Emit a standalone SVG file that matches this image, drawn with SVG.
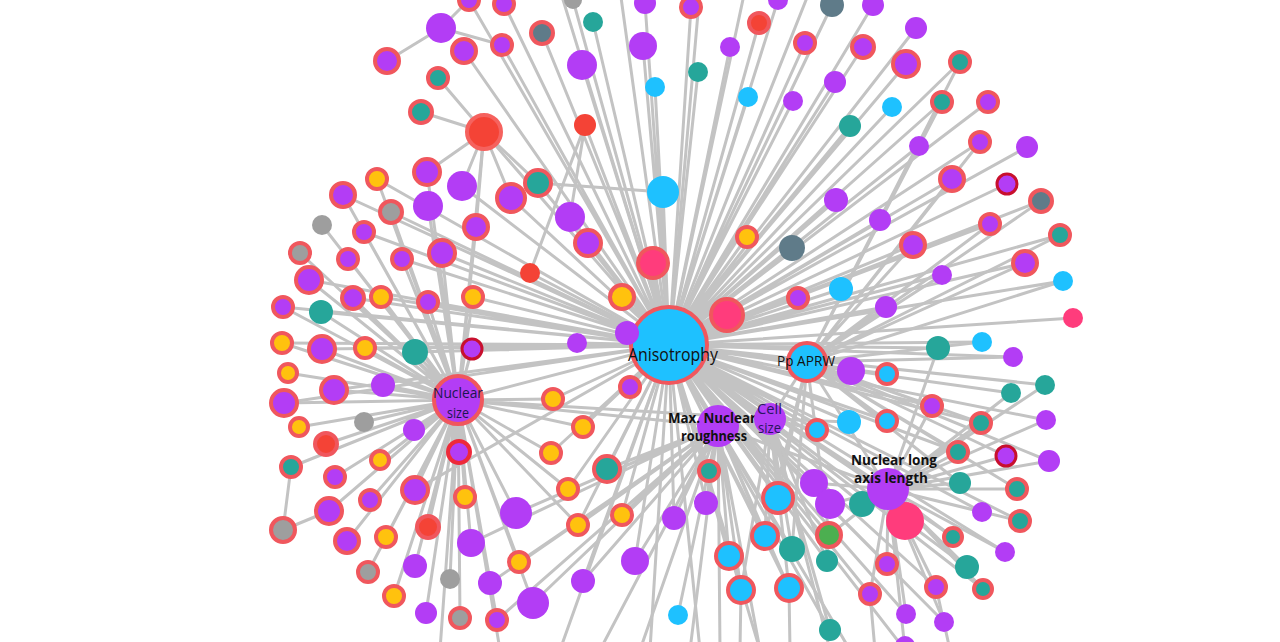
<svg xmlns="http://www.w3.org/2000/svg" width="1280" height="642" viewBox="0 0 1280 642">
<style>
.e{stroke:#c3c3c3;stroke-width:3;fill:none;stroke-linejoin:round}
.p{fill:#b33df5}.t{fill:#26a69a}.b{fill:#1ec1ff}.g{fill:#9e9e9e}.s{fill:#5f7b89}.r{fill:#f44336}.k{fill:#ff3c7c}
.pr,.yr,.tr,.br,.gr,.sr,.rr,.kr,.gn{stroke:#f0575d;stroke-width:4}
.pr{fill:#b33df5}.yr{fill:#ffc20e}.tr{fill:#26a69a}.br{fill:#1ec1ff}.gr{fill:#9e9e9e}.sr{fill:#5f7b89}.rr{fill:#f44336}.kr{fill:#ff3c7c}.gn{fill:#4caf50}
.pd{fill:#b33df5;stroke:#c8102e;stroke-width:3}
.pR{fill:#b33df5;stroke:#ee2a3a;stroke-width:4}
.lb{font-family:"Open Sans","Liberation Sans",sans-serif;text-anchor:middle;fill:#111}
</style>
<g id="connectors">
<path class="e" d="M469 0L669 345 504 4 669 345 464 51 669 345 502 45 669 345 542 33 669 345 573 0 669 345 593 22 669 345 645 3 669 345 643 46 669 345 582 65 669 345 655 87 669 345 484 132 669 345 585 125 669 345 462 186 669 345 538 183 669 345 511 198 669 345 663 192 669 345 570 217 669 345 588 243 669 345 653 263 669 345 530 273 669 345 622 297 669 345 691 7 669 345 759 23 669 345 778 0 669 345 832 5 669 345 873 5 669 345 730 47 669 345 805 43 669 345 863 47 669 345 916 28 669 345 698 72 669 345 748 97 669 345 793 101 669 345 835 82 669 345 906 64 669 345 960 62 669 345 892 107 669 345 850 126 669 345 942 102 669 345 988 102 669 345 919 146 669 345 980 142 669 345 1027 147 669 345 952 179 669 345 1007 184 669 345 1041 201 669 345 836 200 669 345 880 220 669 345 990 224 669 345 1060 235 669 345 747 237 669 345 792 248 669 345 913 245 669 345 1025 263 669 345 942 275 669 345 1063 281 669 345 841 289 669 345 798 298 669 345 886 307 669 345 1073 318 669 345 727 315"/>
<path class="e" d="M377 179L669 345 343 195 669 345 391 212 669 345 364 232 669 345 402 259 669 345 442 253 669 345 309 280 669 345 353 298 669 345 381 297 669 345 428 302 669 345 473 297 669 345 283 307 669 345 321 312 669 345 282 343 669 345 322 349 669 345 365 348 669 345 415 352 669 345 472 349 669 345 577 343 669 345 627 333 669 345 334 390 669 345 284 403 669 345 553 399 669 345 630 387 669 345 583 427 669 345 551 453 669 345 607 469 669 345 415 490 669 345 568 489 669 345 622 515 669 345 674 518 669 345 578 525 669 345 635 561 669 345 583 581 669 345 458 400"/>
<path class="e" d="M938 348L669 345 982 342 669 345 851 371 669 345 887 374 669 345 1013 357 669 345 1045 385 669 345 1011 393 669 345 932 406 669 345 817 430 669 345 849 422 669 345 887 421 669 345 981 423 669 345 1046 420 669 345 958 452 669 345 709 471 669 345 814 483 669 345 778 498 669 345 830 504 669 345 862 504 669 345 706 503 669 345 905 521 669 345 982 512 669 345 1020 521 669 345 765 536 669 345 829 535 669 345 792 549 669 345 953 537 669 345 729 556 669 345 827 561 669 345 887 564 669 345 967 567 669 345 1005 552 669 345 741 590 669 345 789 588 669 345 870 594 669 345 936 587 669 345 983 589 669 345 906 614 669 345 944 622 669 345 830 630 669 345 807 362 669 345 718 426 669 345 770 419 669 345 888 489 669 345 560 -10 669 345 620 -10 669 345 700 -10 669 345 745 -10 669 345 810 -10 669 345 560 650 669 345 650 650 669 345 700 650 669 345 760 650 669 345 850 650 669 345 905 650"/>
<path class="e" d="M484 132L458 400 377 179 458 400 427 172 458 400 343 195 458 400 428 206 458 400 391 212 458 400 322 225 458 400 364 232 458 400 476 227 458 400 300 253 458 400 348 259 458 400 402 259 458 400 442 253 458 400 309 280 458 400 353 298 458 400 381 297 458 400 428 302 458 400 473 297 458 400 283 307 458 400 321 312 458 400 282 343 458 400 322 349 458 400 365 348 458 400 415 352 458 400 472 349 458 400 288 373 458 400 334 390 458 400 383 385 458 400 284 403 458 400 299 427 458 400 364 422 458 400 414 430 458 400 553 399 458 400 326 444 458 400 459 452 458 400 583 427 458 400 291 467 458 400 380 460 458 400 551 453 458 400 335 477 458 400 415 490 458 400 465 497 458 400 568 489 458 400 370 500 458 400 516 513 458 400 329 511 458 400 428 527 458 400 386 537 458 400 578 525 458 400 347 541 458 400 471 543 458 400 415 566 458 400 519 562 458 400 368 572 458 400 450 579 458 400 490 583 458 400 394 596 458 400 533 603 458 400 426 613 458 400 460 618 458 400 497 620 458 400 718 426 458 400 770 419 458 400 440 650 458 400 500 650"/>
<path class="e" d="M516 513L718 426 674 518 718 426 471 543 718 426 635 561 718 426 519 562 718 426 490 583 718 426 583 581 718 426 533 603 718 426 497 620 718 426 678 615 718 426 709 471 718 426 706 503 718 426 765 536 718 426 729 556 718 426 741 590 718 426 789 588 718 426 607 469 718 426 622 515 718 426 578 525 718 426 600 650 718 426 640 650 718 426 690 650 718 426 720 650 718 426 760 650 718 426 888 489"/>
<path class="e" d="M938 348L888 489 1045 385 888 489 1011 393 888 489 932 406 888 489 981 423 888 489 1046 420 888 489 958 452 888 489 1006 456 888 489 1049 461 888 489 814 483 888 489 960 483 888 489 1017 489 888 489 830 504 888 489 862 504 888 489 905 521 888 489 982 512 888 489 1020 521 888 489 829 535 888 489 953 537 888 489 887 564 888 489 967 567 888 489 1005 552 888 489 870 594 888 489 936 587 888 489 983 589 888 489 906 614 888 489 944 622 888 489 905 650 888 489 807 362"/>
<path class="e" d="M960 62L807 362 942 102 807 362 980 142 807 362 952 179 807 362 990 224 807 362 913 245 807 362 1025 263 807 362 942 275 807 362 886 307 807 362 982 342 807 362 1013 357 807 362 932 406 807 362 887 421 807 362 981 423 807 362 958 452 807 362 1006 456 807 362 1049 461 807 362 960 483 807 362 1017 489 807 362 778 498 807 362 765 536 807 362 829 535 807 362 792 549 807 362 1063 281 807 362 1060 235 807 362 1041 201 807 362 770 419"/>
<path class="e" d="M817 430L770 419 849 422 770 419 778 498 770 419 765 536 770 419 827 561 770 419 789 588 770 419 830 630 770 419 792 549 770 419 741 590 770 419 830 650"/>
<path class="e" d="M387 61L441 28 469 0M441 28L502 45M438 78L484 132 421 112M484 132L427 172M484 132L462 186M484 132L511 198M484 132L538 183M484 132L476 227M538 183L663 192M585 125L570 217M585 125L530 273M291 467L283 530 329 511M741 590L740 650M789 588L790 650M870 594L875 650M936 587L950 650"/>
</g>
<g id="n1"><circle class="pr" cx="469" cy="0" r="10"/></g>
<g id="n2"><circle class="pr" cx="504" cy="4" r="10"/></g>
<g id="n3"><circle class="p" cx="441" cy="28" r="15"/></g>
<g id="n4"><circle class="pr" cx="387" cy="61" r="12"/></g>
<g id="n5"><circle class="pr" cx="464" cy="51" r="12"/></g>
<g id="n6"><circle class="pr" cx="502" cy="45" r="10"/></g>
<g id="n7"><circle class="sr" cx="542" cy="33" r="11"/></g>
<g id="n8"><circle class="g" cx="573" cy="0" r="9"/></g>
<g id="n9"><circle class="t" cx="593" cy="22" r="10"/></g>
<g id="n10"><circle class="p" cx="645" cy="3" r="11"/></g>
<g id="n11"><circle class="p" cx="643" cy="46" r="14"/></g>
<g id="n12"><circle class="p" cx="582" cy="65" r="15"/></g>
<g id="n13"><circle class="b" cx="655" cy="87" r="10"/></g>
<g id="n14"><circle class="tr" cx="438" cy="78" r="10"/></g>
<g id="n15"><circle class="tr" cx="421" cy="112" r="11"/></g>
<g id="n16"><circle class="rr" cx="484" cy="132" r="17" style="stroke:#f5625e"/></g>
<g id="n17"><circle class="r" cx="585" cy="125" r="11"/></g>
<g id="n18"><circle class="yr" cx="377" cy="179" r="10"/></g>
<g id="n19"><circle class="pr" cx="427" cy="172" r="13"/></g>
<g id="n20"><circle class="p" cx="462" cy="186" r="15"/></g>
<g id="n21"><circle class="tr" cx="538" cy="183" r="13"/></g>
<g id="n22"><circle class="pr" cx="343" cy="195" r="12"/></g>
<g id="n23"><circle class="p" cx="428" cy="206" r="15"/></g>
<g id="n24"><circle class="pr" cx="511" cy="198" r="14"/></g>
<g id="n25"><circle class="b" cx="663" cy="192" r="16"/></g>
<g id="n26"><circle class="gr" cx="391" cy="212" r="11"/></g>
<g id="n27"><circle class="g" cx="322" cy="225" r="10"/></g>
<g id="n28"><circle class="p" cx="570" cy="217" r="15"/></g>
<g id="n29"><circle class="pr" cx="364" cy="232" r="10"/></g>
<g id="n30"><circle class="pr" cx="476" cy="227" r="12"/></g>
<g id="n31"><circle class="gr" cx="300" cy="253" r="10"/></g>
<g id="n32"><circle class="pr" cx="348" cy="259" r="10"/></g>
<g id="n33"><circle class="pr" cx="402" cy="259" r="10"/></g>
<g id="n34"><circle class="pr" cx="442" cy="253" r="13"/></g>
<g id="n35"><circle class="pr" cx="588" cy="243" r="13"/></g>
<g id="n36"><circle class="kr" cx="653" cy="263" r="15"/></g>
<g id="n37"><circle class="r" cx="530" cy="273" r="10"/></g>
<g id="n38"><circle class="pr" cx="309" cy="280" r="13"/></g>
<g id="n39"><circle class="pr" cx="353" cy="298" r="11"/></g>
<g id="n40"><circle class="yr" cx="381" cy="297" r="10"/></g>
<g id="n41"><circle class="pr" cx="428" cy="302" r="10"/></g>
<g id="n42"><circle class="yr" cx="473" cy="297" r="10"/></g>
<g id="n43"><circle class="yr" cx="622" cy="297" r="12"/></g>
<g id="n44"><circle class="pr" cx="283" cy="307" r="10"/></g>
<g id="n45"><circle class="t" cx="321" cy="312" r="12"/></g>
<g id="n46"><circle class="pr" cx="691" cy="7" r="10"/></g>
<g id="n47"><circle class="rr" cx="759" cy="23" r="10"/></g>
<g id="n48"><circle class="p" cx="778" cy="0" r="10"/></g>
<g id="n49"><circle class="s" cx="832" cy="5" r="12"/></g>
<g id="n50"><circle class="p" cx="873" cy="5" r="11"/></g>
<g id="n51"><circle class="p" cx="730" cy="47" r="10"/></g>
<g id="n52"><circle class="pr" cx="805" cy="43" r="10"/></g>
<g id="n53"><circle class="pr" cx="863" cy="47" r="11"/></g>
<g id="n54"><circle class="p" cx="916" cy="28" r="11"/></g>
<g id="n55"><circle class="t" cx="698" cy="72" r="10"/></g>
<g id="n56"><circle class="b" cx="748" cy="97" r="10"/></g>
<g id="n57"><circle class="p" cx="793" cy="101" r="10"/></g>
<g id="n58"><circle class="p" cx="835" cy="82" r="11"/></g>
<g id="n59"><circle class="pr" cx="906" cy="64" r="13"/></g>
<g id="n60"><circle class="tr" cx="960" cy="62" r="10"/></g>
<g id="n61"><circle class="b" cx="892" cy="107" r="10"/></g>
<g id="n62"><circle class="t" cx="850" cy="126" r="11"/></g>
<g id="n63"><circle class="tr" cx="942" cy="102" r="10"/></g>
<g id="n64"><circle class="pr" cx="988" cy="102" r="10"/></g>
<g id="n65"><circle class="p" cx="919" cy="146" r="10"/></g>
<g id="n66"><circle class="pr" cx="980" cy="142" r="10"/></g>
<g id="n67"><circle class="p" cx="1027" cy="147" r="11"/></g>
<g id="n68"><circle class="pr" cx="952" cy="179" r="12"/></g>
<g id="n69"><circle class="pd" cx="1007" cy="184" r="10"/></g>
<g id="n70"><circle class="sr" cx="1041" cy="201" r="11"/></g>
<g id="n71"><circle class="p" cx="836" cy="200" r="12"/></g>
<g id="n72"><circle class="p" cx="880" cy="220" r="11"/></g>
<g id="n73"><circle class="pr" cx="990" cy="224" r="10"/></g>
<g id="n74"><circle class="tr" cx="1060" cy="235" r="10"/></g>
<g id="n75"><circle class="yr" cx="747" cy="237" r="10"/></g>
<g id="n76"><circle class="s" cx="792" cy="248" r="13"/></g>
<g id="n77"><circle class="pr" cx="913" cy="245" r="12"/></g>
<g id="n78"><circle class="pr" cx="1025" cy="263" r="12"/></g>
<g id="n79"><circle class="p" cx="942" cy="275" r="10"/></g>
<g id="n80"><circle class="b" cx="1063" cy="281" r="10"/></g>
<g id="n81"><circle class="b" cx="841" cy="289" r="12"/></g>
<g id="n82"><circle class="pr" cx="798" cy="298" r="10"/></g>
<g id="n83"><circle class="p" cx="886" cy="307" r="11"/></g>
<g id="n84"><circle class="k" cx="1073" cy="318" r="10"/></g>
<g id="n85"><circle class="kr" cx="727" cy="315" r="16"/></g>
<g id="n86"><circle class="yr" cx="282" cy="343" r="10"/></g>
<g id="n87"><circle class="pr" cx="322" cy="349" r="13"/></g>
<g id="n88"><circle class="yr" cx="365" cy="348" r="10"/></g>
<g id="n89"><circle class="t" cx="415" cy="352" r="13"/></g>
<g id="n90"><circle class="pd" cx="472" cy="349" r="10"/></g>
<g id="n91"><circle class="p" cx="577" cy="343" r="10"/></g>
<g id="n93"><circle class="yr" cx="288" cy="373" r="9"/></g>
<g id="n94"><circle class="pr" cx="334" cy="390" r="13"/></g>
<g id="n95"><circle class="p" cx="383" cy="385" r="12"/></g>
<g id="n96"><circle class="pr" cx="284" cy="403" r="13"/></g>
<g id="n97"><circle class="yr" cx="299" cy="427" r="9"/></g>
<g id="n98"><circle class="g" cx="364" cy="422" r="10"/></g>
<g id="n99"><circle class="p" cx="414" cy="430" r="11"/></g>
<g id="n100"><circle class="yr" cx="553" cy="399" r="10"/></g>
<g id="n101"><circle class="pr" cx="630" cy="387" r="10"/></g>
<g id="n102"><circle class="rr" cx="326" cy="444" r="11"/></g>
<g id="n103"><circle class="pR" cx="459" cy="452" r="11"/></g>
<g id="n104"><circle class="yr" cx="583" cy="427" r="10"/></g>
<g id="n105"><circle class="tr" cx="291" cy="467" r="10"/></g>
<g id="n106"><circle class="yr" cx="380" cy="460" r="9"/></g>
<g id="n107"><circle class="yr" cx="551" cy="453" r="10"/></g>
<g id="n108"><circle class="tr" cx="607" cy="469" r="13"/></g>
<g id="n109"><circle class="pr" cx="335" cy="477" r="10"/></g>
<g id="n110"><circle class="pr" cx="415" cy="490" r="13"/></g>
<g id="n111"><circle class="yr" cx="465" cy="497" r="10"/></g>
<g id="n112"><circle class="yr" cx="568" cy="489" r="10"/></g>
<g id="n113"><circle class="pr" cx="370" cy="500" r="10"/></g>
<g id="n114"><circle class="p" cx="516" cy="513" r="16"/></g>
<g id="n115"><circle class="yr" cx="622" cy="515" r="10"/></g>
<g id="n116"><circle class="p" cx="674" cy="518" r="12"/></g>
<g id="n117"><circle class="pr" cx="329" cy="511" r="13"/></g>
<g id="n118"><circle class="gr" cx="283" cy="530" r="12"/></g>
<g id="n119"><circle class="rr" cx="428" cy="527" r="11"/></g>
<g id="n120"><circle class="yr" cx="386" cy="537" r="10"/></g>
<g id="n121"><circle class="yr" cx="578" cy="525" r="10"/></g>
<g id="n122"><circle class="pr" cx="347" cy="541" r="12"/></g>
<g id="n123"><circle class="p" cx="471" cy="543" r="14"/></g>
<g id="n124"><circle class="p" cx="635" cy="561" r="14"/></g>
<g id="n125"><circle class="p" cx="415" cy="566" r="12"/></g>
<g id="n126"><circle class="yr" cx="519" cy="562" r="10"/></g>
<g id="n127"><circle class="gr" cx="368" cy="572" r="10"/></g>
<g id="n128"><circle class="g" cx="450" cy="579" r="10"/></g>
<g id="n129"><circle class="p" cx="490" cy="583" r="12"/></g>
<g id="n130"><circle class="p" cx="583" cy="581" r="12"/></g>
<g id="n131"><circle class="yr" cx="394" cy="596" r="10"/></g>
<g id="n132"><circle class="p" cx="533" cy="603" r="16"/></g>
<g id="n133"><circle class="p" cx="426" cy="613" r="11"/></g>
<g id="n134"><circle class="gr" cx="460" cy="618" r="10"/></g>
<g id="n135"><circle class="pr" cx="497" cy="620" r="10"/></g>
<g id="n136"><circle class="b" cx="678" cy="615" r="10"/></g>
<g id="n137"><circle class="t" cx="938" cy="348" r="12"/></g>
<g id="n138"><circle class="b" cx="982" cy="342" r="10"/></g>
<g id="n139"><circle class="p" cx="851" cy="371" r="14"/></g>
<g id="n140"><circle class="br" cx="887" cy="374" r="10"/></g>
<g id="n141"><circle class="p" cx="1013" cy="357" r="10"/></g>
<g id="n142"><circle class="t" cx="1045" cy="385" r="10"/></g>
<g id="n143"><circle class="t" cx="1011" cy="393" r="10"/></g>
<g id="n144"><circle class="pr" cx="932" cy="406" r="10"/></g>
<g id="n145"><circle class="br" cx="817" cy="430" r="10"/></g>
<g id="n146"><circle class="b" cx="849" cy="422" r="12"/></g>
<g id="n147"><circle class="br" cx="887" cy="421" r="10"/></g>
<g id="n148"><circle class="tr" cx="981" cy="423" r="10"/></g>
<g id="n149"><circle class="p" cx="1046" cy="420" r="10"/></g>
<g id="n150"><circle class="tr" cx="958" cy="452" r="10"/></g>
<g id="n151"><circle class="pd" cx="1006" cy="456" r="10"/></g>
<g id="n152"><circle class="p" cx="1049" cy="461" r="11"/></g>
<g id="n153"><circle class="tr" cx="709" cy="471" r="10"/></g>
<g id="n154"><circle class="p" cx="814" cy="483" r="14"/></g>
<g id="n155"><circle class="t" cx="960" cy="483" r="11"/></g>
<g id="n156"><circle class="tr" cx="1017" cy="489" r="10"/></g>
<g id="n157"><circle class="br" cx="778" cy="498" r="15"/></g>
<g id="n158"><circle class="p" cx="830" cy="504" r="15"/></g>
<g id="n159"><circle class="t" cx="862" cy="504" r="13"/></g>
<g id="n160"><circle class="p" cx="706" cy="503" r="12"/></g>
<g id="n161"><circle class="k" cx="905" cy="521" r="19"/></g>
<g id="n162"><circle class="p" cx="982" cy="512" r="10"/></g>
<g id="n163"><circle class="tr" cx="1020" cy="521" r="10"/></g>
<g id="n164"><circle class="br" cx="765" cy="536" r="13"/></g>
<g id="n165"><circle class="gn" cx="829" cy="535" r="12"/></g>
<g id="n166"><circle class="t" cx="792" cy="549" r="13"/></g>
<g id="n167"><circle class="tr" cx="953" cy="537" r="9"/></g>
<g id="n168"><circle class="br" cx="729" cy="556" r="13"/></g>
<g id="n169"><circle class="t" cx="827" cy="561" r="11"/></g>
<g id="n170"><circle class="pr" cx="887" cy="564" r="10"/></g>
<g id="n171"><circle class="t" cx="967" cy="567" r="12"/></g>
<g id="n172"><circle class="p" cx="1005" cy="552" r="10"/></g>
<g id="n173"><circle class="br" cx="741" cy="590" r="13"/></g>
<g id="n174"><circle class="br" cx="789" cy="588" r="13"/></g>
<g id="n175"><circle class="pr" cx="870" cy="594" r="10"/></g>
<g id="n176"><circle class="pr" cx="936" cy="587" r="10"/></g>
<g id="n177"><circle class="tr" cx="983" cy="589" r="9"/></g>
<g id="n178"><circle class="p" cx="906" cy="614" r="10"/></g>
<g id="n179"><circle class="p" cx="944" cy="622" r="10"/></g>
<g id="n180"><circle class="t" cx="830" cy="630" r="11"/></g>
<g id="n181"><circle class="p" cx="905" cy="646" r="10"/></g>
<g id="anisotrophy"><circle class="br" cx="669" cy="345" r="38"/><text class="lb" x="673" y="361" font-size="18" textLength="90" lengthAdjust="spacingAndGlyphs">Anisotrophy</text></g>
<g id="n92"><circle class="p" cx="627" cy="333" r="12"/></g>
<g id="nuclear-size"><circle class="pr" cx="458" cy="400" r="24"/><text class="lb" x="458" y="398" font-size="14" textLength="50" lengthAdjust="spacingAndGlyphs" style="fill:#1b1650">Nuclear</text><text class="lb" x="458" y="418" font-size="14" textLength="22" lengthAdjust="spacingAndGlyphs" style="fill:#1b1650">size</text></g>
<g id="pp-aprw"><circle class="br" cx="807" cy="362" r="19"/><text class="lb" x="806" y="366" font-size="15" textLength="58" lengthAdjust="spacingAndGlyphs">Pp APRW</text></g>
<g id="max-nuclear-roughness"><circle class="p" cx="718" cy="426" r="21"/><text class="lb" x="712" y="423" font-size="14" font-weight="bold" textLength="88" lengthAdjust="spacingAndGlyphs">Max. Nuclear</text><text class="lb" x="714" y="441" font-size="14" font-weight="bold" textLength="66" lengthAdjust="spacingAndGlyphs">roughness</text></g>
<g id="cell-size"><circle class="p" cx="770" cy="419" r="16"/><text class="lb" x="769.5" y="414" font-size="14" textLength="25" lengthAdjust="spacingAndGlyphs" style="fill:#2a1560">Cell</text><text class="lb" x="769.5" y="433" font-size="14" textLength="23" lengthAdjust="spacingAndGlyphs" style="fill:#2a1560">size</text></g>
<g id="nuclear-long-axis-length"><circle class="p" cx="888" cy="489" r="21"/><text class="lb" x="894" y="465" font-size="14" font-weight="bold" textLength="86" lengthAdjust="spacingAndGlyphs">Nuclear long</text><text class="lb" x="891" y="483" font-size="14" font-weight="bold" textLength="74" lengthAdjust="spacingAndGlyphs">axis length</text></g>
</svg>
